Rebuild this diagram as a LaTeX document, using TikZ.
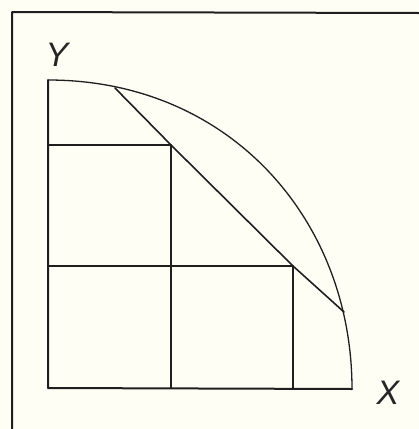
\documentclass[tikz,border=0pt]{standalone}
\usepackage{fontspec}
\setsansfont{Liberation Sans}
\begin{document}
\begin{tikzpicture}[x=1pt,y=-1pt,
  ink/.style={draw=black!88,line cap=round,line join=round},
  axis/.style={ink,line width=2pt},
  gridline/.style={ink,line width=1.6pt},
  thinline/.style={ink,line width=1.3pt},
  lbl/.style={font=\sffamily\itshape\fontsize{34}{34}\selectfont,text=black!85,inner sep=0pt}]
\useasboundingbox (0,0) rectangle (419,429);
\fill[yellow!4] (0,0) rectangle (419,429);
% frame
\coordinate (fbl) at (12,429);
\coordinate (ftl) at (12,12);
\coordinate (ftr) at (419,13);
\draw[axis] (fbl) -- (ftl) -- (ftr);
% axes
\coordinate (O) at (48,388);
\coordinate (Ytop) at (48,80);
\coordinate (Xend) at (352,389);
\draw[axis] (Ytop) -- (O) -- (Xend);
% curve
\draw[thinline] (Ytop) .. controls (230,80) and (352,220) .. (Xend);
% grid
\coordinate (h1l) at (48,145);
\coordinate (h1r) at (171,145);
\coordinate (v1b) at (171,388);
\coordinate (h2l) at (48,266);
\coordinate (h2r) at (293,266);
\coordinate (v2b) at (293,388);
\draw[gridline] (h1l) -- (h1r);
\draw[thinline] (h1r) -- (v1b);
\draw[gridline] (h2l) -- (h2r);
\draw[thinline] (h2r) -- (v2b);
% chord
\coordinate (c1) at (115,88);
\coordinate (c2) at (344,312);
\draw[gridline] (c1) -- (h1r) -- (h2r) -- (c2);
% labels
\node[lbl] (ylab) at (57,55) {Y};
\node[lbl] (xlab) at (388,393) {X};
\end{tikzpicture}
\end{document}
